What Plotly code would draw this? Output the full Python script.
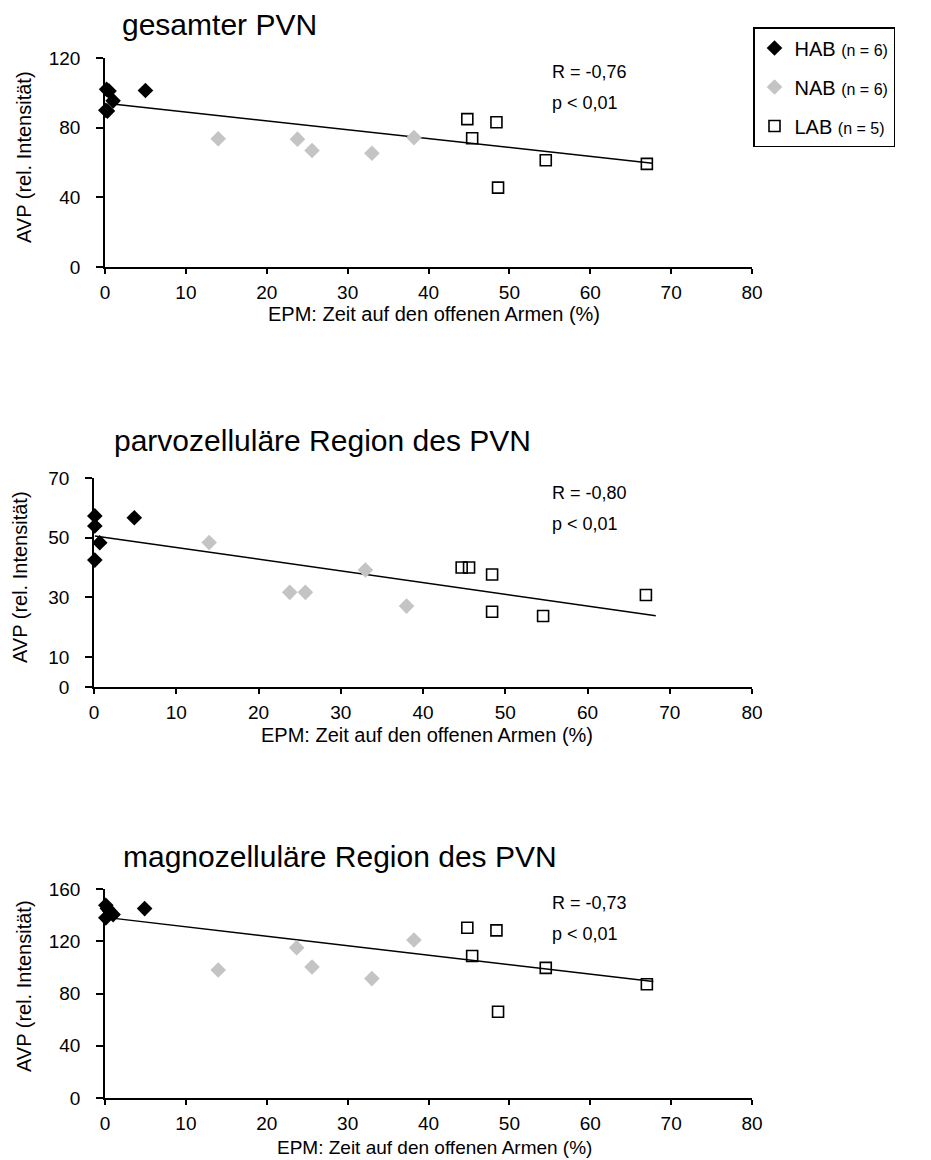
import plotly.graph_objects as go

W, H = 931, 1160
FONT = "Liberation Sans, Arial, sans-serif"

# ---------------- data ----------------
panel_titles = ["gesamter PVN", "parvozelluläre Region des PVN", "magnozelluläre Region des PVN"]
x_title = "EPM: Zeit auf den offenen Armen (%)"
y_title = "AVP (rel. Intensität)"
r_texts = ["R = -0,76", "R = -0,80", "R = -0,73"]
p_text = "p < 0,01"
group_names = ["HAB", "NAB", "LAB"]
group_n = ["(n = 6)", "(n = 6)", "(n = 5)"]

# Panel 1: gesamter PVN
hab1_x = [0.2, 0.5, 0.1, 0.3, 1.0, 5.0]
hab1_y = [102, 101, 90, 89.5, 95.4, 101.3]
nab1_x = [14.0, 23.8, 25.6, 33.0, 38.2]
nab1_y = [73.6, 73.4, 66.9, 65.3, 74.3]
lab1_x = [44.8, 48.4, 45.4, 54.5, 67.0, 48.6]
lab1_y = [84.9, 83.1, 73.9, 61.3, 59.2, 45.6]
fit1_x = [1.2, 67.7]
fit1_y = [93.5, 59.6]

# Panel 2: parvozelluläre Region
hab2_x = [0.1, 0.1, 0.1, 0.7, 4.9]
hab2_y = [57.3, 53.9, 42.5, 48.3, 56.7]
nab2_x = [14.0, 23.8, 25.7, 33.0, 38.0]
nab2_y = [48.4, 31.7, 31.7, 39.2, 27.1]
lab2_x = [44.7, 45.6, 48.4, 48.4, 54.6, 67.1]
lab2_y = [40.0, 40.0, 37.7, 25.2, 23.8, 30.8]
fit2_x = [0.1, 68.3]
fit2_y = [50.6, 23.9]

# Panel 3: magnozelluläre Region
hab3_x = [0.1, 0.1, 0.6, 1.0, 0.3, 4.9]
hab3_y = [147.6, 137.9, 143.0, 140.4, 145.0, 145.0]
nab3_x = [14.0, 23.7, 25.6, 33.0, 38.2]
nab3_y = [98.0, 115.0, 100.3, 91.4, 120.9]
lab3_x = [44.8, 48.4, 45.4, 54.5, 67.0, 48.6]
lab3_y = [130.3, 128.3, 108.7, 99.6, 87.1, 66.0]
fit3_x = [0.6, 67.8]
fit3_y = [137.9, 89.1]

y_ranges = [[0, 120], [0, 70], [0, 160]]
y_ticks = [[0, 40, 80, 120], [0, 10, 30, 50, 70], [0, 40, 80, 120, 160]]
x_range = [0, 80]
x_ticks = [0, 10, 20, 30, 40, 50, 60, 70, 80]

# ---------------- layout geometry (pixels) ----------------
def px(x):
    return x / W

def py(y):
    return 1 - y / H

# plot area pixel boxes: (left, right, top, bottom)
boxes = [(105, 752, 58, 267), (94, 752, 478, 687), (105, 752, 889, 1098)]
title_pos = [(219, 24), (322, 440), (340, 856)]
xtitle_pos = [(434, 314), (427, 735), (434, 1147)]
ytitle_pos = [(24, 157), (20, 577), (24, 986)]
r_pos = [(550, 72), (550, 493), (550, 903)]
p_pos = [(550, 103), (550, 524), (550, 934)]
xtitle_sizes = [20, 20, 19]

data = [
    (hab1_x, hab1_y, nab1_x, nab1_y, lab1_x, lab1_y, fit1_x, fit1_y),
    (hab2_x, hab2_y, nab2_x, nab2_y, lab2_x, lab2_y, fit2_x, fit2_y),
    (hab3_x, hab3_y, nab3_x, nab3_y, lab3_x, lab3_y, fit3_x, fit3_y),
]

fig = go.Figure()
marker_styles = [
    dict(symbol="diamond", size=12, color="black", line=dict(width=0)),
    dict(symbol="diamond", size=12, color="#c4c4c4", line=dict(width=0)),
    dict(symbol="square-open", size=11, color="black", line=dict(width=1.6)),
]

for i, (hx, hy, nx, ny, lx, ly, fx, fy) in enumerate(data):
    xa = "x" if i == 0 else f"x{i+1}"
    ya = "y" if i == 0 else f"y{i+1}"
    fig.add_trace(go.Scatter(x=fx, y=fy, mode="lines", xaxis=xa, yaxis=ya,
                             line=dict(color="black", width=1.5), showlegend=False,
                             hoverinfo="skip"))
    for g, (gx, gy) in enumerate([(hx, hy), (nx, ny), (lx, ly)]):
        fig.add_trace(go.Scatter(
            x=gx, y=gy, mode="markers", xaxis=xa, yaxis=ya,
            marker=marker_styles[g], cliponaxis=False,
            name=f"{group_names[g]} <span style='font-size:16px'>{group_n[g]}</span>",
            legendgroup=group_names[g], showlegend=(i == 0),
        ))

layout = dict(
    template="none",
    width=W, height=H,
    margin=dict(l=0, r=0, t=0, b=0, pad=0, autoexpand=False),
    paper_bgcolor="white", plot_bgcolor="white",
    font=dict(family=FONT, color="black", size=16),
    showlegend=True,
    legend=dict(x=px(753), y=py(27), xanchor="left", yanchor="top",
                bordercolor="black", borderwidth=1.5, bgcolor="white",
                font=dict(size=20, family=FONT), traceorder="grouped",
                tracegroupgap=10, itemwidth=30),
    annotations=[],
)

for i in range(3):
    l, r, t, b = boxes[i]
    xk = "xaxis" if i == 0 else f"xaxis{i+1}"
    yk = "yaxis" if i == 0 else f"yaxis{i+1}"
    ya = "y" if i == 0 else f"y{i+1}"
    xa = "x" if i == 0 else f"x{i+1}"
    layout[xk] = dict(domain=[px(l), px(r)], anchor=ya, range=x_range,
                      tickvals=x_ticks, showline=True, linecolor="black", linewidth=1.5,
                      ticks="outside", ticklen=5, tickwidth=1.5, tickcolor="black",
                      showgrid=False, zeroline=False, automargin=False,
                      tickfont=dict(size=19, family=FONT), ticklabelstandoff=2)
    layout[yk] = dict(domain=[py(b), py(t)], anchor=xa, range=y_ranges[i],
                      tickvals=y_ticks[i], showline=True, linecolor="black", linewidth=1.5,
                      ticks="outside", ticklen=7, tickwidth=1.5, tickcolor="black",
                      showgrid=False, zeroline=False, automargin=False,
                      tickfont=dict(size=19, family=FONT), ticklabelstandoff=12)
    layout["annotations"] += [
        dict(text=panel_titles[i], x=px(title_pos[i][0]), y=py(title_pos[i][1]),
             xref="paper", yref="paper", showarrow=False, xanchor="center", yanchor="middle",
             font=dict(size=30, family=FONT)),
        dict(text=x_title, x=px(xtitle_pos[i][0]), y=py(xtitle_pos[i][1]),
             xref="paper", yref="paper", showarrow=False, xanchor="center", yanchor="middle",
             font=dict(size=xtitle_sizes[i], family=FONT)),
        dict(text=y_title, x=px(ytitle_pos[i][0]), y=py(ytitle_pos[i][1]),
             xref="paper", yref="paper", showarrow=False, xanchor="center", yanchor="middle",
             textangle=-90, font=dict(size=20, family=FONT)),
        dict(text=r_texts[i], x=px(r_pos[i][0]), y=py(r_pos[i][1]),
             xref="paper", yref="paper", showarrow=False, xanchor="left", yanchor="middle",
             font=dict(size=18, family=FONT)),
        dict(text=p_text, x=px(p_pos[i][0]), y=py(p_pos[i][1]),
             xref="paper", yref="paper", showarrow=False, xanchor="left", yanchor="middle",
             font=dict(size=18, family=FONT)),
    ]

fig.update_layout(**layout)
fig.write_html("out.html")
